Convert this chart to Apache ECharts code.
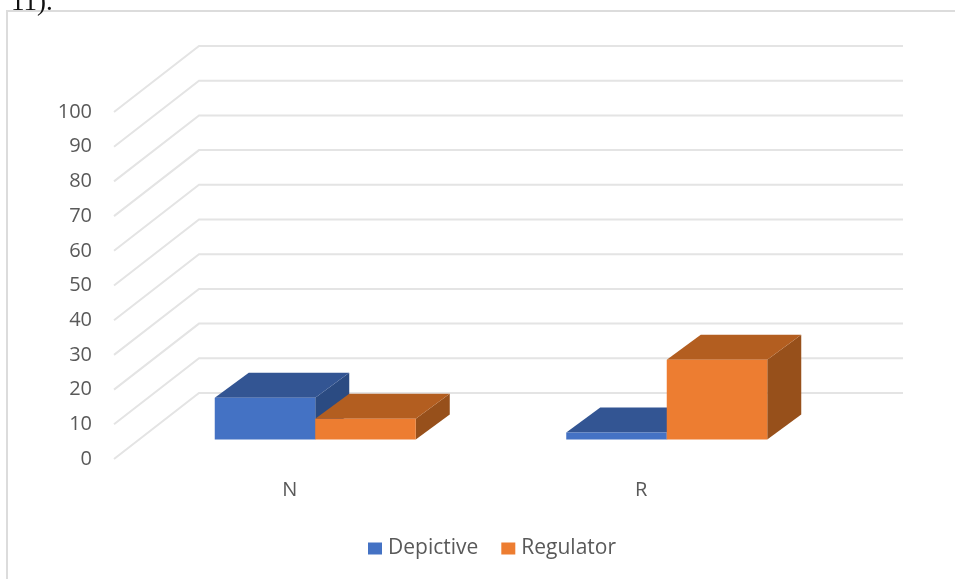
<!DOCTYPE html>
<html>
<head>
<meta charset="utf-8">
<style>
html,body{margin:0;padding:0;background:#fff;}
#demo{width:955px;height:579px;filter:blur(0.6px);}
</style>
<script src="https://cdn.jsdelivr.net/npm/echarts@6/dist/echarts.min.js"></script>
</head>
<body>
<div id="demo"></div>
<script>
var categories = ['N', 'R'];
var depictive = [12, 2];
var regulator = [6, 23];
var yTicks = [0, 10, 20, 30, 40, 50, 60, 70, 80, 90, 100];

// fake 3d: how far the back wall and the bars are pushed away from the front plane
var wallDepth = [85, -66];
var barDepth = [34, -25];
var barShift = [25.5, -19.5];
var barWidth = 100.5;

function poly(points, color) {
    return { type: 'polygon', shape: { points: points }, style: { fill: color } };
}

function wall(params, api) {
    var p = api.coord([0, api.value(0)]);
    p[0] = params.coordSys.x;
    var back = [p[0] + wallDepth[0], p[1] + wallDepth[1]];
    var end = params.coordSys.x + params.coordSys.width + wallDepth[0] + 1;
    return {
        type: 'polyline',
        shape: { points: [p, back, [end, back[1]]] },
        style: { fill: null, stroke: '#e4e4e4', lineWidth: 2 }
    };
}

function bar3d(index, front, top, side) {
    return function (params, api) {
        var c = api.coord([api.value(0), api.value(1)]);
        var b = api.coord([api.value(0), 0]);
        var x0 = c[0] + barShift[0] + (index - 1) * barWidth;
        var x1 = x0 + barWidth;
        var yTop = c[1] + barShift[1];
        var yBase = b[1] + barShift[1];
        var dx = barDepth[0], dy = barDepth[1];
        return {
            type: 'group',
            children: [
                poly([[x1, yTop], [x1 + dx, yTop + dy], [x1 + dx, yBase + dy], [x1, yBase]], side),
                poly([[x0, yTop], [x0 + dx, yTop + dy], [x1 + dx, yTop + dy], [x1, yTop]], top),
                poly([[x0, yTop], [x1, yTop], [x1, yBase], [x0, yBase]], front)
            ]
        };
    };
}

var option = {
    animation: false,
    textStyle: { fontFamily: 'Open Sans' },
    title: {
        text: '11).',
        left: 6,
        top: -16,
        textStyle: { fontFamily: 'Liberation Serif', fontWeight: 'normal', fontSize: 27, color: '#111' }
    },
    graphic: [{
        type: 'rect',
        shape: { x: 7, y: 11, width: 960, height: 580 },
        style: { fill: null, stroke: '#dcdcdc', lineWidth: 2 }
    }],
    legend: {
        left: 363,
        top: 533,
        itemWidth: 14,
        itemHeight: 12,
        itemGap: 23,
        icon: 'rect',
        textStyle: { fontFamily: 'Open Sans', fontSize: 21, color: '#595959', padding: [0, 0, 0, 1] },
        data: ['Depictive', 'Regulator']
    },
    grid: { left: 114, top: 112, width: 703, height: 347 },
    xAxis: {
        type: 'category',
        data: categories,
        axisLine: { show: false },
        axisTick: { show: false },
        axisLabel: { fontSize: 20, color: '#595959', margin: 21 }
    },
    yAxis: {
        type: 'value',
        min: 0,
        max: 100,
        interval: 10,
        splitLine: { show: false },
        axisLine: { show: false },
        axisTick: { show: false },
        axisLabel: { fontSize: 20, color: '#595959', margin: 22 }
    },
    series: [
        {
            type: 'custom',
            silent: true,
            renderItem: wall,
            encode: { y: 0 },
            data: yTicks.map(function (t) { return [t]; })
        },
        {
            name: 'Depictive',
            type: 'custom',
            itemStyle: { color: '#4472c4' },
            renderItem: bar3d(0, '#4472c4', '#335593', '#2b4b82'),
            encode: { x: 0, y: 1 },
            data: depictive.map(function (v, i) { return [i, v]; })
        },
        {
            name: 'Regulator',
            type: 'custom',
            itemStyle: { color: '#ed7d31' },
            renderItem: bar3d(1, '#ed7d31', '#b35e20', '#97501b'),
            encode: { x: 0, y: 1 },
            data: regulator.map(function (v, i) { return [i, v]; })
        }
    ]
};

var myChart = echarts.init(document.getElementById('demo'));
myChart.setOption(option);
</script>
</body>
</html>
